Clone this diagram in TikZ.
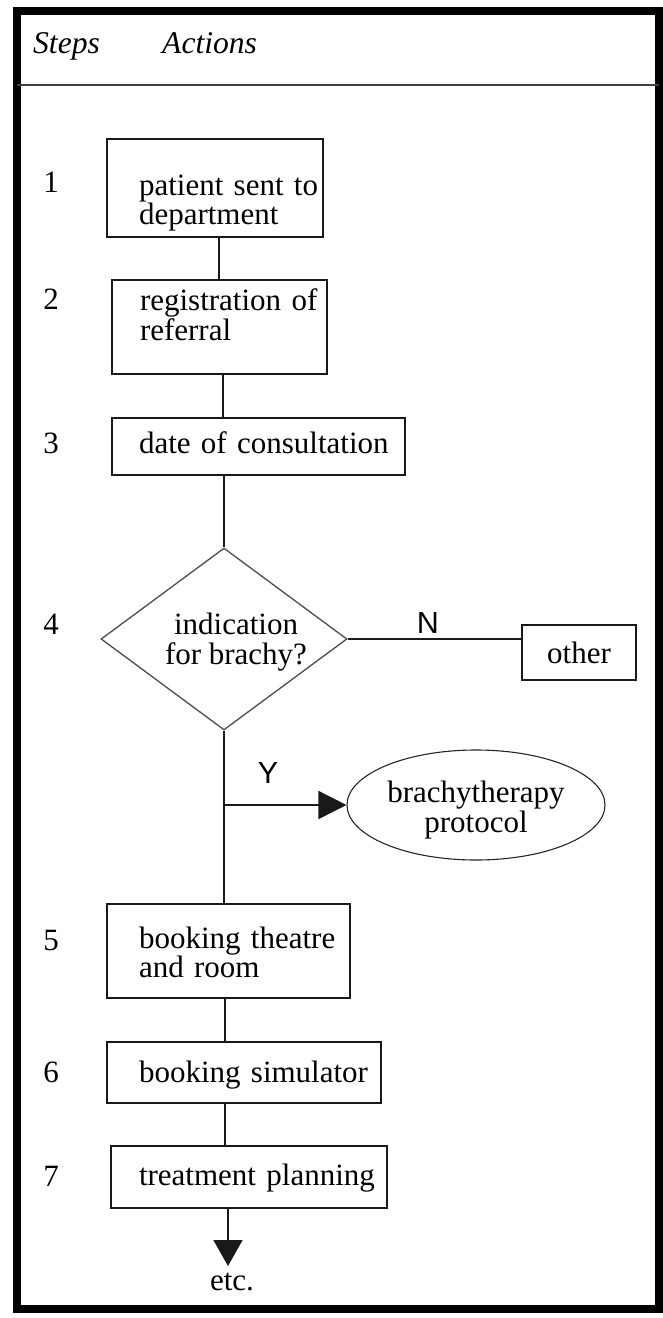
\documentclass[tikz,border=0pt]{standalone}
\usepackage{fontspec}
\setmainfont{Liberation Serif}
\newfontfamily\lblsans{Liberation Sans}
\usetikzlibrary{shapes.geometric,arrows.meta}
\newcommand\bxt[3]{\baselineskip=#2pt\relax\raggedright\leftskip=#1pt\relax #3\par}
\begin{document}
\begin{tikzpicture}[x=1pt,y=-1pt,
  every node/.style={font=\fontsize{31}{27}\selectfont},
  box/.style={draw=black!90, line width=1.6pt, rectangle, inner sep=0pt, text height=22pt},
  num/.style={anchor=base, inner sep=0pt},
  conn/.style={draw=black!90, line width=1.5pt},
  yn/.style={anchor=base, inner sep=0pt, font=\lblsans\fontsize{30.5}{30}\selectfont},
  head/.style={anchor=base west, inner sep=0pt, font=\itshape\fontsize{31.6}{27}\selectfont},
]
\useasboundingbox (0,0) rectangle (663,1318);
% frame and header
\draw[line width=8pt] (17,11) rectangle (659,1309);
\draw[line width=1.5pt, black!75] (17,85) -- (659,85);
\node[head] (hs) at (33,53) {Steps};
\node[head] (ha) at (162,53) {Actions};

% step numbers
\node[num] (n1) at (51,192) {1};
\node[num] (n2) at (51,309) {2};
\node[num] (n3) at (51,453) {3};
\node[num] (n4) at (51,634) {4};
\node[num] (n5) at (51,950) {5};
\node[num] (n6) at (51,1082) {6};
\node[num] (n7) at (51,1186) {7};

% action boxes
\node[box, text width=216pt, minimum height=98pt, text depth=8pt] (b1) at (215,188) {\bxt{32}{24}{patient sent to\\department}};
\node[box, text width=215pt, minimum height=94pt, text depth=56pt] (b2) at (219.5,327) {\bxt{28}{30}{registration of\\referral}};
\node[box, text width=293pt, minimum height=57pt, text depth=9pt] (b3) at (258.5,446.5) {\bxt{27}{27}{date of consultation}};
\node[draw=black!70, line width=1.3pt, diamond, shape aspect=1.35, minimum width=246pt, minimum height=182pt, inner sep=0pt, align=center, text height=52pt, text depth=1pt, font=\fontsize{31}{30}\selectfont] (d) at (224,639) {\hspace*{24pt}indication\\\hspace*{24pt}for brachy?};
\node[box, minimum width=114pt, minimum height=55pt, text depth=1pt] (o) at (579,652.5) {other};
\node[draw=black!85, line width=1.1pt, ellipse, minimum width=258pt, minimum height=110pt, inner sep=0pt, align=center, text height=55pt, text depth=1pt] (e) at (476,805) {brachytherapy\\protocol};
\node[box, text width=243pt, minimum height=94pt, text depth=28pt] (b5) at (228.5,951) {\bxt{32}{29}{booking theatre\\and room}};
\node[box, text width=274pt, minimum height=61pt, text depth=3pt] (b6) at (244,1072.5) {\bxt{32}{27}{booking simulator}};
\node[box, text width=276pt, minimum height=62pt, text depth=6pt] (b7) at (249,1177) {\bxt{28}{27}{treatment planning}};
\node[anchor=base, inner sep=0pt] (etc) at (232,1290) {etc.};

% labels
\node[yn] (lN) at (428,633) {N};
\node[yn] (lY) at (268,783) {Y};

% connectors
\coordinate (v1) at (219,0);
\coordinate (v2) at (223,0);
\coordinate (v3) at (225,0);
\coordinate (v4) at (228,0);
\coordinate (yj) at (224,805);
\coordinate (tip) at (228,1266);
\draw[conn] (b1.south -| v1) -- (b2.north -| v1);
\draw[conn] (b2.south -| v2) -- (b3.north -| v2);
\draw[conn] (b3.south -| d.north) -- (d.north);
\draw[conn] (d.east) -- (d.east -| o.west);
\draw[conn] (d.south) -- (b5.north -| d.south);
\draw[conn, -{Triangle[length=28pt,width=28pt]}] (yj) -- (e.west);
\draw[conn] (b5.south -| v3) -- (b6.north -| v3);
\draw[conn] (b6.south -| v3) -- (b7.north -| v3);
\draw[conn, -{Triangle[length=26pt,width=29pt]}] (b7.south -| v4) -- (tip);
\end{tikzpicture}
\end{document}
